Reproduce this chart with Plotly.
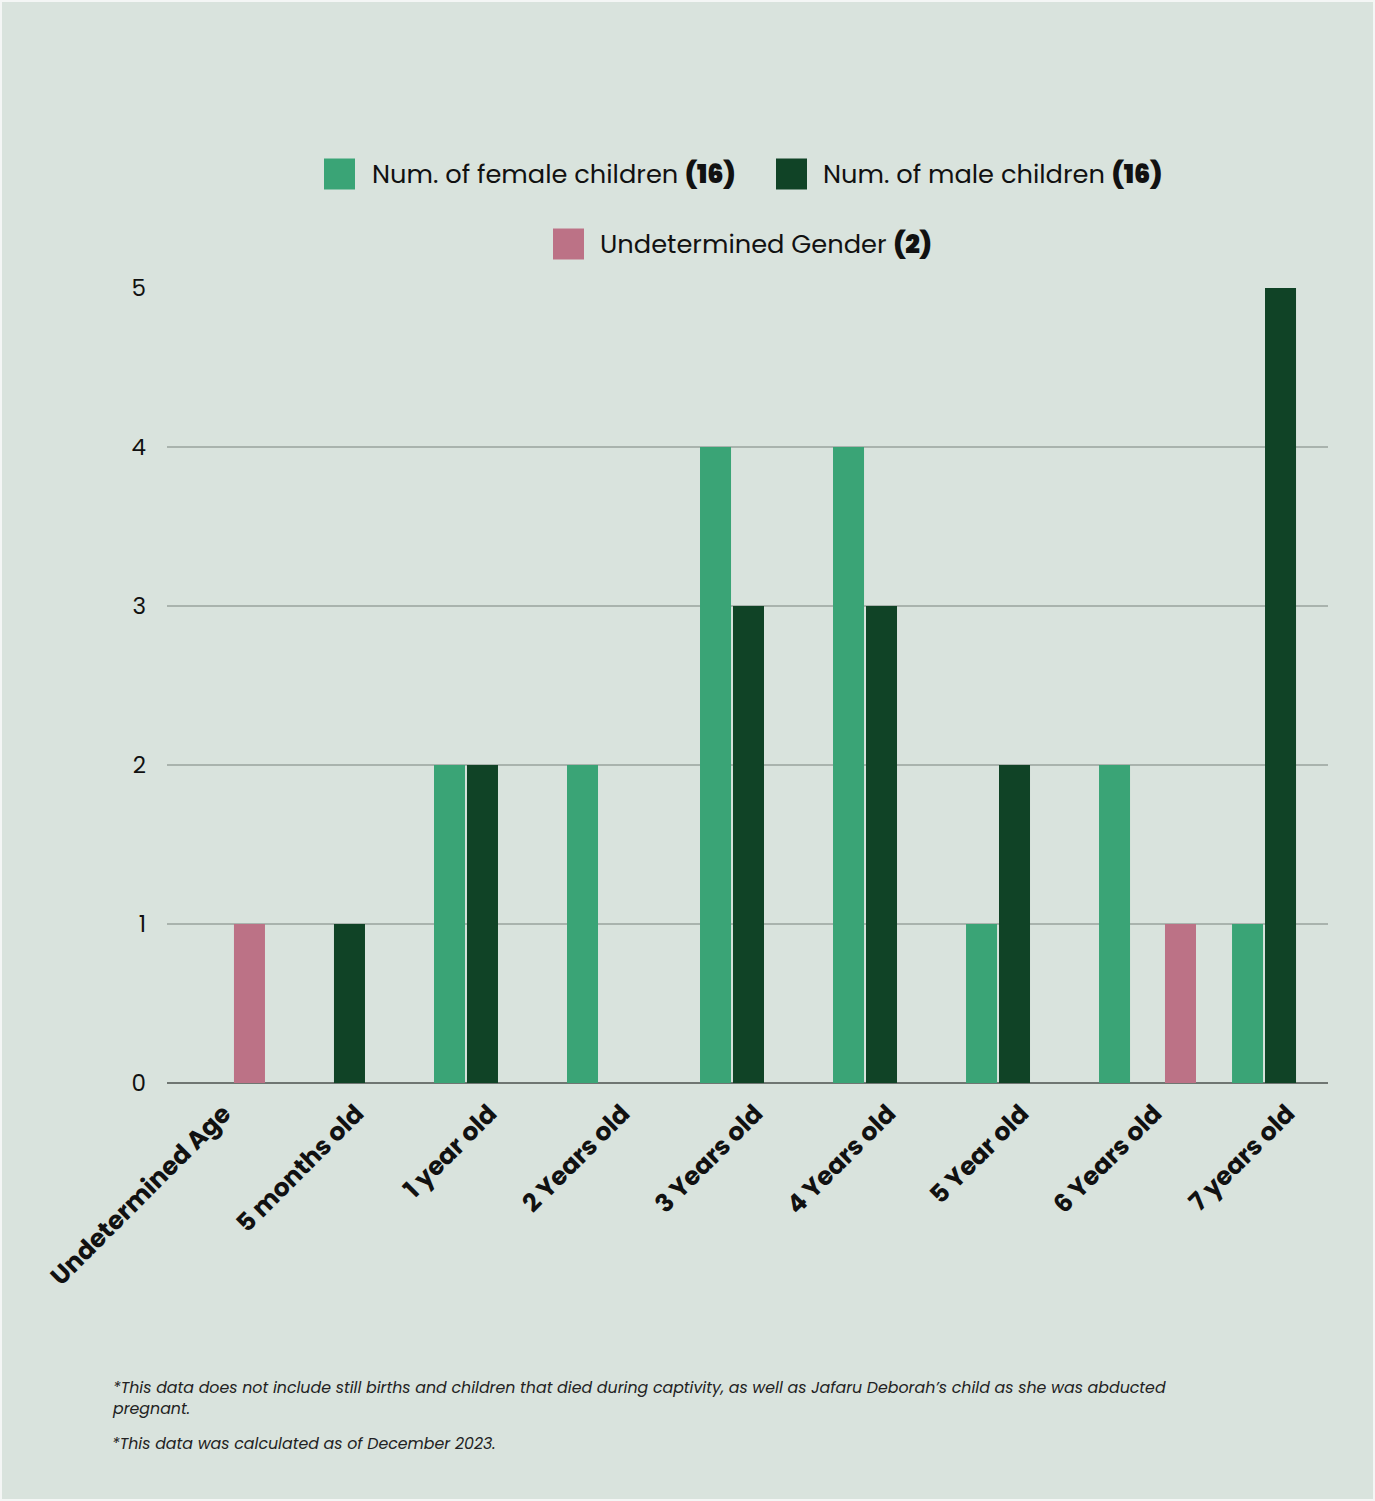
import plotly.graph_objects as go

categories = ["Undetermined Age", "5 months old", "1 year old", "2 Years old", "3 Years old",
              "4 Years old", "5 Year old", "6 Years old", "7 years old"]
female = [0, 0, 2, 2, 4, 4, 1, 2, 1]
male = [0, 1, 2, 0, 3, 3, 2, 0, 5]
undetermined = [1, 0, 0, 0, 0, 0, 0, 1, 0]
series_names = ["Num. of female children", "Num. of male children", "Undetermined Gender"]
series_totals = ["16", "16", "2"]
footnotes = ["*This data does not include still births and children that died during captivity, as well as Jafaru Deborah\u2019s child as she was abducted<br>pregnant.",
             "*This data was calculated as of December 2023."]

C_F, C_M, C_U = "#3aa476", "#104326", "#bc7286"
BG = "#d9e3dd"
W, H = 1375, 1501
L, R, T, B = 167, 47, 288, 418
PW, PH = W - L - R, H - T - B
FONT = "Poppins, Inter, Open Sans, sans-serif"

def px(x):
    return (x - L) / PW
def py(y):
    return (H - B - y) / PH

fig = go.Figure()
for vals, col, nm in [(female, C_F, series_names[0]), (male, C_M, series_names[1]), (undetermined, C_U, series_names[2])]:
    fig.add_trace(go.Bar(x=categories, y=vals, marker=dict(color=col, line=dict(width=0)),
                         name=nm, showlegend=False))

shapes = []
annotations = []
legend_pos = [(324, 174, 370), (776, 174, 821), (553, 244, 598)]
for (sx, cy, tx), col, nm, tot in zip(legend_pos, [C_F, C_M, C_U], series_names, series_totals):
    shapes.append(dict(type="rect", xref="paper", yref="paper",
                       x0=px(sx), x1=px(sx + 31), y0=py(cy + 15.5), y1=py(cy - 15.5),
                       fillcolor=col, line=dict(width=0)))
    annotations.append(dict(xref="paper", yref="paper", x=px(tx), y=py(cy), xanchor="left", yanchor="middle",
                            text=f"{nm} <span style=\"font-weight:900\">({tot})</span>", showarrow=False,
                            font=dict(family=FONT, size=25.7, color="#111111")))

annotations.append(dict(xref="paper", yref="paper", x=px(110), y=py(1374), xanchor="left", yanchor="top",
                        text=f"<i>{footnotes[0]}</i>", showarrow=False, align="left",
                        font=dict(family=FONT, size=15.8, color="#222222")))
annotations.append(dict(xref="paper", yref="paper", x=px(110), y=py(1430), xanchor="left", yanchor="top",
                        text=f"<i>{footnotes[1]}</i>", showarrow=False, align="left",
                        font=dict(family=FONT, size=15.8, color="#222222")))

# thin white frame around the page, as in the reference
shapes.append(dict(type="rect", xref="paper", yref="paper", x0=px(1), x1=px(W - 1), y0=py(H - 1), y1=py(1),
                   line=dict(color="#f4f6f5", width=2), fillcolor="rgba(0,0,0,0)", layer="above"))

fig.update_layout(
    width=W, height=H,
    margin=dict(l=L, r=R, t=T, b=B),
    paper_bgcolor=BG, plot_bgcolor=BG,
    barmode="group", bargap=0.256, bargroupgap=0.06,
    shapes=shapes, annotations=annotations,
    font=dict(family=FONT, color="#111111"),
)
fig.update_xaxes(range=[-0.372, 8.357], tickangle=-45, showgrid=False,
                 tickfont=dict(family=FONT, size=25, color="#111111", weight="bold"),
                 showline=False, ticks="", ticklabelstandoff=10, ticklabelshift=7)
fig.update_yaxes(range=[0, 5], dtick=1, showgrid=True, gridcolor="#a9b3ad", gridwidth=1.5,
                 zeroline=True, zerolinecolor="#6f7672", zerolinewidth=2,
                 tickfont=dict(family=FONT, size=23, color="#111111"), ticklabelstandoff=20)

fig.write_html("out.html", config={"displayModeBar": False},
               post_script="document.body.style.margin='0';")
